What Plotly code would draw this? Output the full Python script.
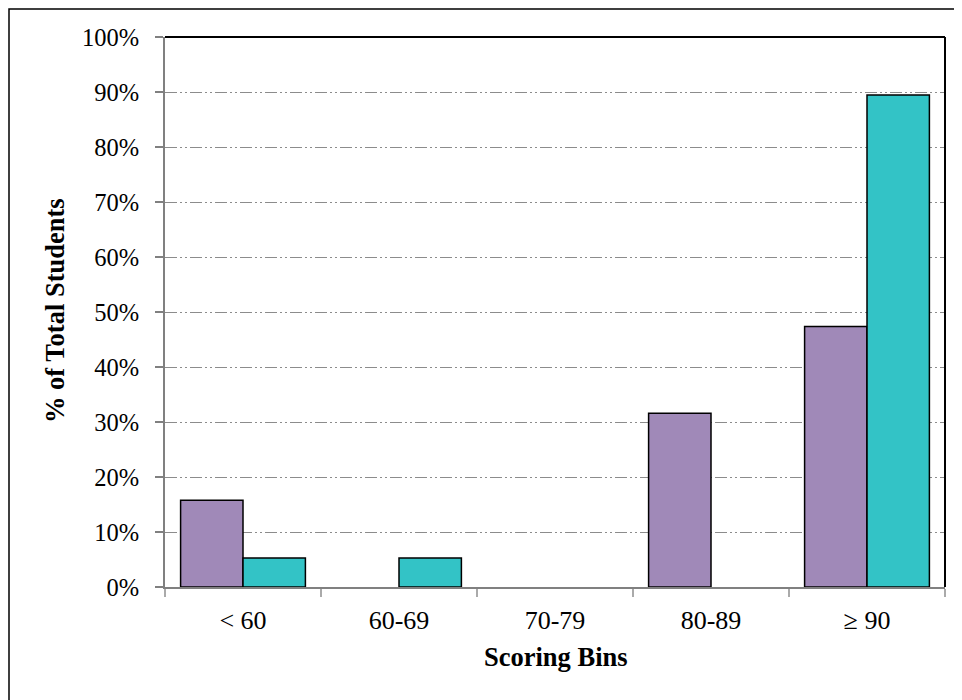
import plotly.graph_objects as go

categories = ["< 60", "60-69", "70-79", "80-89", "\u2265 90"]
series_a = [15.79, 0, 0, 31.58, 47.37]
series_b = [5.26, 5.26, 0, 0, 89.47]
y_ticks = [0, 10, 20, 30, 40, 50, 60, 70, 80, 90, 100]
y_tick_labels = [f"{v}%" for v in y_ticks]

# page body has an 8px margin, so figure pixel = screen pixel - 8
OFF = 8
W, H = 954, 692
L, R, T, B = 157, 17, 29, 113
pw, ph = W - L - R, H - T - B

def px_x(screen):
    return (screen - OFF - L) / pw

def px_y(screen):
    return (H - B - (screen - OFF)) / ph

font = "Liberation Serif, Times New Roman, serif"
fig = go.Figure()
for vals, col in ((series_a, "#A089B8"), (series_b, "#33C3C6")):
    fig.add_bar(x=categories, y=vals,
                marker=dict(color=col, line=dict(color="black", width=[1.5 if v > 0 else 0 for v in vals])))

fig.update_layout(
    width=W, height=H,
    margin=dict(l=L, r=R, t=T, b=B),
    paper_bgcolor="white", plot_bgcolor="white",
    barmode="group", bargap=0.2, bargroupgap=0,
    showlegend=False,
    font=dict(family=font, size=24, color="black"),
    hovermode=False,
)
fig.update_yaxes(
    range=[0, 100], tickvals=y_ticks, ticktext=y_tick_labels,
    showgrid=True, gridcolor="#8c8c8c", griddash="12px,3px,2px,3px,2px,3px", gridwidth=1,
    showline=True, linecolor="#808080", linewidth=2,
    ticks="outside", ticklen=8, tickcolor="#808080", tickwidth=1.5,
    ticklabelstandoff=11, zeroline=False,
    tickfont=dict(size=24.5, family=font),
)
fig.update_xaxes(
    showline=True, linecolor="#808080", linewidth=2,
    ticks="outside", tickson="boundaries", ticklen=8, tickcolor="#aaaaaa", tickwidth=1.5,
    ticklabelstandoff=9, showgrid=False,
    tickfont=dict(size=26, family=font),
)
# top and right plot borders (black)
fig.add_shape(type="line", xref="paper", yref="paper", x0=0, x1=1, y0=1, y1=1, line=dict(color="black", width=2))
fig.add_shape(type="line", xref="paper", yref="paper", x0=1, x1=1, y0=0, y1=1, line=dict(color="black", width=2))
# outer chart border
fig.add_shape(type="rect", xref="paper", yref="paper",
              x0=px_x(9), x1=px_x(1000), y0=px_y(1000), y1=px_y(9),
              line=dict(color="black", width=1.5))
# axis titles
fig.add_annotation(text="<b>% of Total Students</b>", xref="paper", yref="paper",
                   x=px_x(55), y=px_y(311), xanchor="center", yanchor="middle",
                   textangle=-90, showarrow=False,
                   font=dict(size=26.5, family=font))
fig.add_annotation(text="<b>Scoring Bins</b>", xref="paper", yref="paper",
                   x=px_x(556), y=px_y(657), xanchor="center", yanchor="middle",
                   showarrow=False,
                   font=dict(size=26.5, family=font))

fig.write_html("out.html")
